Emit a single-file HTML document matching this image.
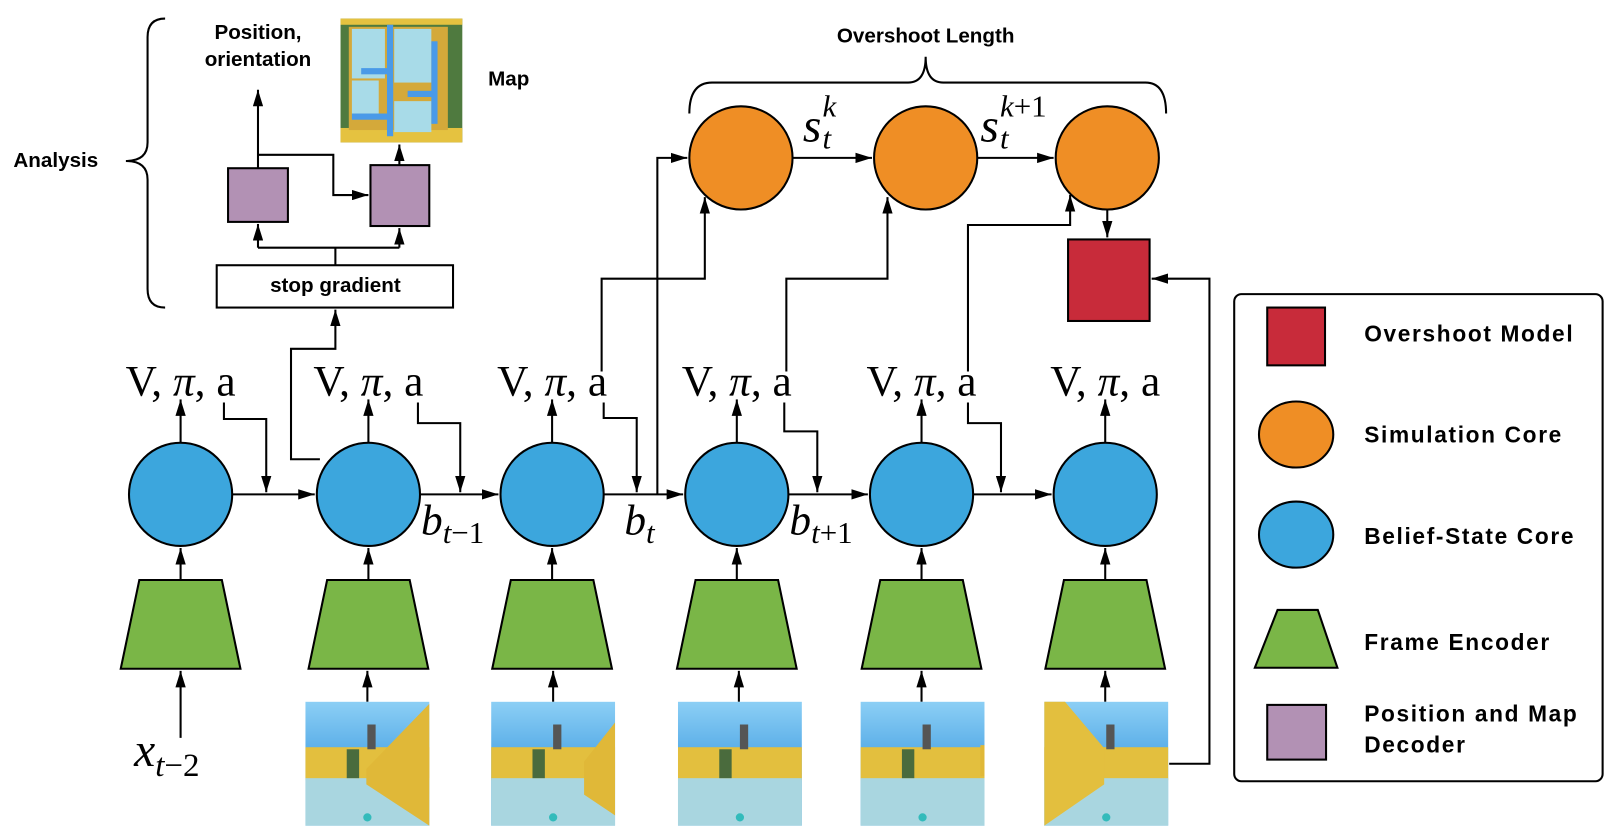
<!DOCTYPE html>
<html><head><meta charset="utf-8"><style>
html,body{margin:0;padding:0;background:#fff;}
svg{display:block;}
.b{font-family:"Liberation Sans",sans-serif;font-weight:bold;}
.m{font-family:"Liberation Serif",serif;}
</style></head><body>
<svg width="1615" height="837" viewBox="0 0 1565 811" preserveAspectRatio="none" xmlns="http://www.w3.org/2000/svg">
<defs>
<marker id="a2" viewBox="0 0 16 10" markerWidth="16" markerHeight="10" refX="16" refY="5" orient="auto" markerUnits="userSpaceOnUse"><path d="M0,0 L16,5 L0,10 z" fill="#000"/></marker>
<linearGradient id="sky" x1="0" y1="0" x2="0" y2="1"><stop offset="0" stop-color="#8ccff5"/><stop offset="0.4" stop-color="#5aaee8"/></linearGradient>
<g id="frame">
<rect x="0" y="0" width="120" height="120" fill="url(#sky)"/>
<rect x="0" y="44" width="120" height="32" fill="#e3bf3e"/>
<rect x="0" y="74" width="120" height="46" fill="#a9d6e0"/>
<rect x="60" y="22" width="8" height="24" fill="#555"/>
<rect x="40" y="46" width="12" height="28" fill="#4a6b3d"/>
<circle cx="60" cy="112" r="4" fill="#3bb"/>
</g>
</defs>
<g stroke="#000" stroke-width="2" fill="none">
<path d="M160,18 Q143,18 143,36 L143,138 Q143,156 122,156 Q143,156 143,174 L143,280 Q143,298 160,298"/>
<path d="M668,110 Q668,80 690,80 L880,80 Q897,80 897,55 Q897,80 914,80 L1110,80 Q1130,80 1130,110"/>
</g>
<text class="b" x="13" y="162" font-size="20">Analysis</text>
<text class="b" x="250" y="38" font-size="20" text-anchor="middle">Position,</text>
<text class="b" x="250" y="64" font-size="20" text-anchor="middle">orientation</text>
<text class="b" x="473" y="83" font-size="20">Map</text>
<text class="b" x="897" y="41" font-size="20" text-anchor="middle">Overshoot Length</text>
<!-- map -->
<rect x="330" y="18" width="118" height="120" fill="#4f7a3f"/>
<rect x="330" y="18" width="118" height="6" fill="#e5c240"/>
<rect x="330" y="124" width="118" height="14" fill="#e5c240"/>
<rect x="338" y="26" width="96" height="100" fill="#d4a93a"/>
<rect x="341" y="28" width="32" height="48" fill="#a8dbe8"/>
<rect x="382" y="28" width="36" height="52" fill="#a8dbe8"/>
<rect x="341" y="78" width="26" height="32" fill="#a8dbe8"/>
<rect x="382" y="98" width="36" height="30" fill="#a8dbe8"/>
<rect x="375" y="24" width="6" height="108" fill="#4a9ae8"/>
<rect x="418" y="40" width="6" height="80" fill="#4a9ae8"/>
<rect x="350" y="66" width="28" height="6" fill="#4a9ae8"/>
<rect x="395" y="88" width="28" height="6" fill="#4a9ae8"/>
<rect x="341" y="110" width="36" height="6" fill="#4a9ae8"/>
<!-- purple boxes -->
<rect x="221" y="163" width="58" height="52" fill="#b291b4" stroke="#000" stroke-width="2"/>
<rect x="359" y="160" width="57" height="59" fill="#b291b4" stroke="#000" stroke-width="2"/>
<rect x="210" y="257" width="229" height="41" fill="#fff" stroke="#000" stroke-width="2"/>
<text class="b" x="325" y="283" font-size="20" text-anchor="middle">stop gradient</text>
<g stroke="#000" stroke-width="2" fill="none">
<path d="M250,163 L250,87" marker-end="url(#a2)"/>
<path d="M250,150 L323,150 L323,189 L357,189" marker-end="url(#a2)"/>
<path d="M387,160 L387,140" marker-end="url(#a2)"/>
<path d="M325,257 L325,240 M250,240 L387,240"/>
<path d="M250,240 L250,217" marker-end="url(#a2)"/>
<path d="M387,240 L387,221" marker-end="url(#a2)"/>
<path d="M310,445 L282,445 L282,338 L325,338 L325,300" marker-end="url(#a2)"/>
<path d="M225,479 L305,479" marker-end="url(#a2)"/>
<path d="M407,479 L483,479" marker-end="url(#a2)"/>
<path d="M585,479 L662,479" marker-end="url(#a2)"/>
<path d="M764,479 L841,479" marker-end="url(#a2)"/>
<path d="M943,479 L1019,479" marker-end="url(#a2)"/>
<path d="M217,390 L217,406 L258,406 L258,477" marker-end="url(#a2)"/>
<path d="M405,390 L405,410 L446,410 L446,477" marker-end="url(#a2)"/>
<path d="M585,390 L585,405 L617,405 L617,477" marker-end="url(#a2)"/>
<path d="M760,390 L760,418 L792,418 L792,477" marker-end="url(#a2)"/>
<path d="M938,390 L938,410 L970,410 L970,477" marker-end="url(#a2)"/>
<path d="M583,360 L583,270 L683,270 L683,191" marker-end="url(#a2)"/>
<path d="M762,360 L762,270 L860,270 L860,191" marker-end="url(#a2)"/>
<path d="M938,360 L938,218 L1037,218 L1037,189" marker-end="url(#a2)"/>
<path d="M637,479 L637,153 L666,153" marker-end="url(#a2)"/>
<path d="M768,153 L845,153" marker-end="url(#a2)"/>
<path d="M947,153 L1021,153" marker-end="url(#a2)"/>
<path d="M1073,203 L1073,230" marker-end="url(#a2)"/>
<path d="M1133,740 L1172,740 L1172,270 L1116,270" marker-end="url(#a2)"/>
<path d="M175,429 L175,387" marker-end="url(#a2)"/>
<path d="M357,429 L357,387" marker-end="url(#a2)"/>
<path d="M535,429 L535,387" marker-end="url(#a2)"/>
<path d="M714,429 L714,387" marker-end="url(#a2)"/>
<path d="M893,429 L893,387" marker-end="url(#a2)"/>
<path d="M1071,429 L1071,387" marker-end="url(#a2)"/>
<path d="M175,562 L175,531" marker-end="url(#a2)"/>
<path d="M357,562 L357,531" marker-end="url(#a2)"/>
<path d="M535,562 L535,531" marker-end="url(#a2)"/>
<path d="M714,562 L714,531" marker-end="url(#a2)"/>
<path d="M893,562 L893,531" marker-end="url(#a2)"/>
<path d="M1071,562 L1071,531" marker-end="url(#a2)"/>
<path d="M175,715 L175,650" marker-end="url(#a2)"/>
<path d="M356,680 L356,650" marker-end="url(#a2)"/>
<path d="M536,680 L536,650" marker-end="url(#a2)"/>
<path d="M716,680 L716,650" marker-end="url(#a2)"/>
<path d="M893,680 L893,650" marker-end="url(#a2)"/>
<path d="M1071,680 L1071,650" marker-end="url(#a2)"/>
</g>
<g fill="#ef8e25" stroke="#000" stroke-width="2">
<ellipse cx="718" cy="153" rx="50" ry="50"/>
<ellipse cx="897" cy="153" rx="50" ry="50"/>
<ellipse cx="1073" cy="153" rx="50" ry="50"/>
</g>
<rect x="1035" y="232" width="79" height="79" fill="#c82b3a" stroke="#000" stroke-width="2"/>
<g fill="#3ca6dd" stroke="#000" stroke-width="2">
<ellipse cx="175" cy="479" rx="50" ry="50"/>
<ellipse cx="357" cy="479" rx="50" ry="50"/>
<ellipse cx="535" cy="479" rx="50" ry="50"/>
<ellipse cx="714" cy="479" rx="50" ry="50"/>
<ellipse cx="893" cy="479" rx="50" ry="50"/>
<ellipse cx="1071" cy="479" rx="50" ry="50"/>
</g>
<g fill="#7ab647" stroke="#000" stroke-width="2">
<path d="M135,562 L215,562 L233,648 L117,648 Z"/>
<path d="M317,562 L397,562 L415,648 L299,648 Z"/>
<path d="M495,562 L575,562 L593,648 L477,648 Z"/>
<path d="M674,562 L754,562 L772,648 L656,648 Z"/>
<path d="M853,562 L933,562 L951,648 L835,648 Z"/>
<path d="M1031,562 L1111,562 L1129,648 L1013,648 Z"/>
</g>
<use href="#frame" x="296" y="680"/>
<polygon points="355,745 416,682 416,800 355,760" fill="#e0b838"/>
<use href="#frame" x="476" y="680"/>
<polygon points="566,738 596,700 596,790 566,770" fill="#e0b838"/>
<use href="#frame" x="657" y="680"/>
<use href="#frame" x="834" y="680"/>
<rect x="950" y="722" width="4" height="30" fill="#e0b838"/>
<use href="#frame" x="1012" y="680"/>
<polygon points="1012,680 1032,680 1070,725 1070,760 1012,800" fill="#e3bf3e"/>
<g class="m" font-size="42" text-anchor="middle">
<text x="175" y="383">V, <tspan font-style="italic">π</tspan>, a</text>
<text x="357" y="383">V, <tspan font-style="italic">π</tspan>, a</text>
<text x="535" y="383">V, <tspan font-style="italic">π</tspan>, a</text>
<text x="714" y="383">V, <tspan font-style="italic">π</tspan>, a</text>
<text x="893" y="383">V, <tspan font-style="italic">π</tspan>, a</text>
<text x="1071" y="383">V, <tspan font-style="italic">π</tspan>, a</text>
</g>
<g class="m" font-style="italic">
<text x="408" y="518" font-size="42">b<tspan font-size="30" dy="8">t</tspan><tspan font-size="30" font-style="normal">−1</tspan></text>
<text x="605" y="518" font-size="42">b<tspan font-size="30" dy="8">t</tspan></text>
<text x="765" y="518" font-size="42">b<tspan font-size="30" dy="8">t</tspan><tspan font-size="30" font-style="normal">+1</tspan></text>
<text x="130" y="742" font-size="46">x<tspan font-size="32" dy="10">t</tspan><tspan font-size="32" font-style="normal">−2</tspan></text>
<text x="778" y="137" font-size="46">s</text><text x="797" y="144" font-size="30">t</text><text x="797" y="113" font-size="30">k</text>
<text x="950" y="137" font-size="46">s</text><text x="969" y="144" font-size="30">t</text><text x="969" y="113" font-size="30">k<tspan font-style="normal">+1</tspan></text>
</g>
<rect x="1196" y="285" width="357" height="472" rx="7" fill="#fff" stroke="#000" stroke-width="2"/>
<rect x="1228" y="298" width="56" height="56" fill="#c82b3a" stroke="#000" stroke-width="2"/>
<ellipse cx="1256" cy="421" rx="36" ry="32" fill="#ef8e25" stroke="#000" stroke-width="2"/>
<ellipse cx="1256" cy="518" rx="36" ry="32" fill="#3ca6dd" stroke="#000" stroke-width="2"/>
<path d="M1238,591 L1277,591 L1296,647 L1216,647 Z" fill="#7ab647" stroke="#000" stroke-width="2"/>
<rect x="1228" y="683" width="57" height="53" fill="#b291b4" stroke="#000" stroke-width="2"/>
<g class="b" font-size="22" letter-spacing="1.6">
<text x="1322" y="331">Overshoot Model</text>
<text x="1322" y="429">Simulation Core</text>
<text x="1322" y="527">Belief-State Core</text>
<text x="1322" y="630">Frame Encoder</text>
<text x="1322" y="699">Position and Map</text>
<text x="1322" y="729">Decoder</text>
</g>
</svg>
</body></html>
